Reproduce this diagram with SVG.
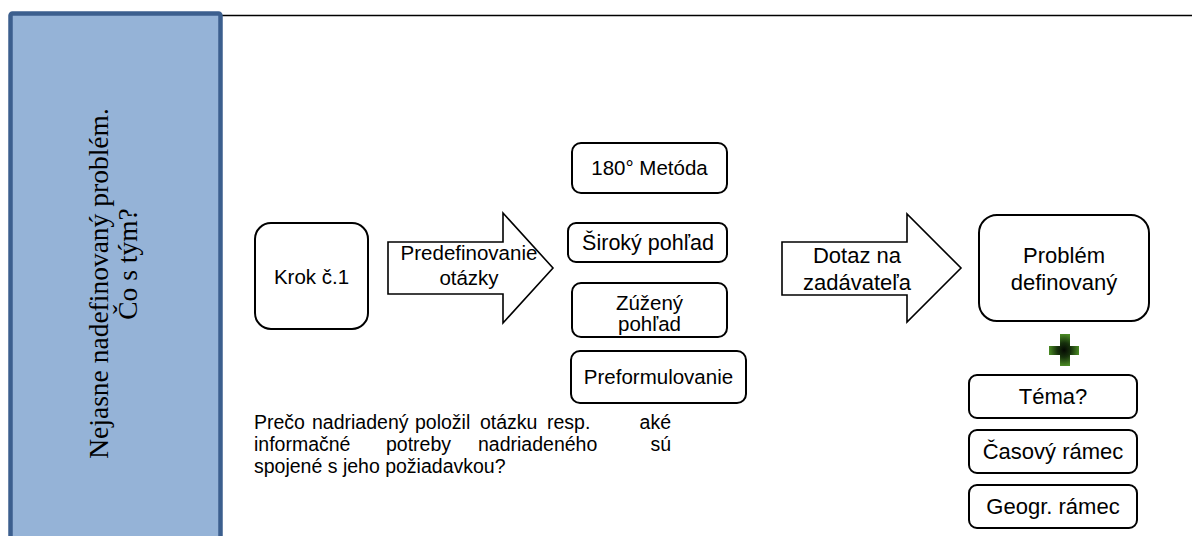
<svg xmlns="http://www.w3.org/2000/svg" width="1192" height="536" viewBox="0 0 1192 536">
<style>
.box{fill:#fff;stroke:#000;stroke-width:2}
.arr{fill:#fff;stroke:#000;stroke-width:1.6;stroke-linejoin:miter}
.t{font-family:"Liberation Sans",Arial,sans-serif;font-size:20.5px;fill:#000;text-anchor:middle}
.tr{font-family:"Liberation Sans",Arial,sans-serif;font-size:22px;fill:#000;text-anchor:middle}
.p{font-family:"Liberation Sans",Arial,sans-serif;font-size:19.5px;fill:#000}
.v{font-family:"Liberation Serif","Times New Roman",serif;font-size:27.5px;fill:#000;text-anchor:middle}
</style>
<defs>
<radialGradient id="gp" cx="0.5" cy="0.5" r="0.5">
<stop offset="0" stop-color="#050a03"/>
<stop offset="0.45" stop-color="#16300c"/>
<stop offset="1" stop-color="#4a8a24"/>
</radialGradient>
</defs>
<rect width="1192" height="536" fill="#fff"/>
<line x1="222" y1="15.5" x2="1192" y2="15.5" stroke="#000" stroke-width="1.5"/>
<g id="panel">
<rect x="10.5" y="13.5" width="210" height="540" rx="2" fill="#95B3D7" stroke="#3C5F8E" stroke-width="4.5"/>
<g transform="rotate(-90)">
<text class="v" x="-283.5" y="108">Nejasne nadefinovaný problém.</text>
<text class="v" x="-264" y="137">Čo s tým?</text>
</g>
</g>
<g id="connectors">
<g id="arrow1">
<polygon class="arr" points="388,242 503,242 503,213 553,268 503,323 503,294 388,294"/>
<text class="t" x="469" y="260">Predefinovanie</text>
<text class="t" x="469" y="285">otázky</text>
</g>
<g id="arrow2">
<polygon class="arr" points="782,242 907,242 907,214 961,268 907,322 907,295 782,295"/>
<text class="tr" x="857" y="263">Dotaz na</text>
<text class="tr" x="857" y="290">zadávateľa</text>
</g>
</g>
<g id="krok">
<rect class="box" x="255" y="223" width="113" height="106" rx="16"/>
<text class="t" x="311.5" y="284">Krok č.1</text>
</g>
<g id="metoda180">
<rect class="box" x="572" y="143" width="155" height="50" rx="9"/>
<text class="t" x="649.5" y="175">180° Metóda</text>
</g>
<g id="siroky">
<rect class="box" x="568" y="223" width="159" height="39" rx="8"/>
<text class="t" x="648" y="250" style="font-size:21.5px">Široký pohľad</text>
</g>
<g id="zuzeny">
<rect class="box" x="572" y="283" width="155" height="54" rx="9"/>
<text class="t" x="649.5" y="310">Zúžený</text>
<text class="t" x="649.5" y="331">pohľad</text>
</g>
<g id="preformulovanie">
<rect class="box" x="571" y="351" width="175" height="52" rx="9"/>
<text class="t" x="658.5" y="384">Preformulovanie</text>
</g>
<g id="problem">
<rect class="box" x="979" y="215" width="170" height="106" rx="18"/>
<text class="tr" x="1064" y="263">Problém</text>
<text class="tr" x="1064" y="290">definovaný</text>
</g>
<g id="plus">
<path d="M1060,334 H1070 V346 H1079 V355 H1070 V366 H1060 V355 H1049 V346 H1060 Z" fill="url(#gp)"/>
</g>
<g id="tema">
<rect class="box" x="969" y="375" width="168" height="43" rx="8"/>
<text class="tr" x="1053" y="404">Téma?</text>
</g>
<g id="casovy">
<rect class="box" x="969" y="430" width="168" height="43" rx="8"/>
<text class="tr" x="1053" y="459">Časový rámec</text>
</g>
<g id="geogr">
<rect class="box" x="969" y="485" width="168" height="43" rx="8"/>
<text class="tr" x="1053" y="514">Geogr. rámec</text>
</g>
<g id="poznamka">
<text class="p" y="429"><tspan x="254">Prečo</tspan><tspan x="312">nadriadený</tspan><tspan x="415">položil</tspan><tspan x="480">otázku</tspan><tspan x="547">resp.</tspan><tspan x="671" text-anchor="end">aké</tspan></text>
<text class="p" y="451"><tspan x="254">informačné</tspan><tspan x="386">potreby</tspan><tspan x="478">nadriadeného</tspan><tspan x="671" text-anchor="end">sú</tspan></text>
<text class="p" y="473" x="254">spojené s jeho požiadavkou?</text>
</g>
</svg>
